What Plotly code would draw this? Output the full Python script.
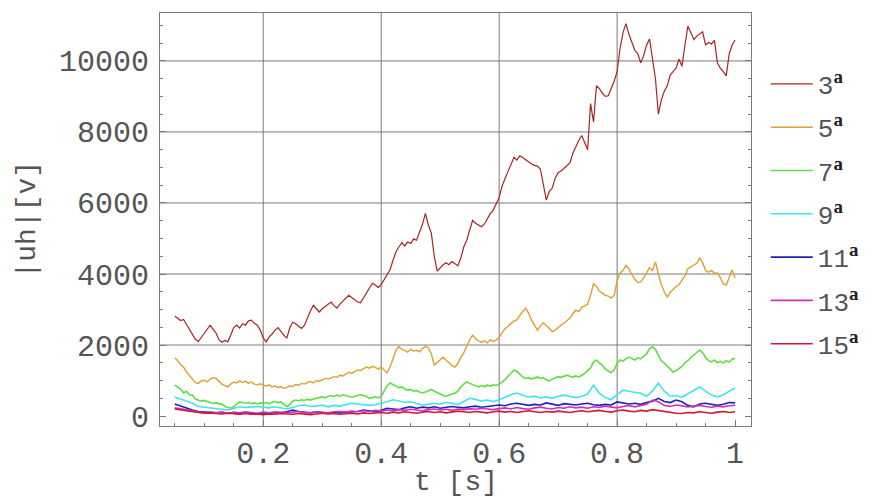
import numpy as np
import plotly.graph_objects as go

# harmonic amplitudes |uh| [V], fine sampling (dt = 0.005 s) from t = 0.05 to 1.0
h3 = [2820, 2760, 2690, 2720, 2580, 2470, 2330, 2160, 2100, 2220,
      2310, 2430, 2560, 2450, 2340, 2150, 2080, 2130, 2090, 2280,
      2490, 2560, 2480, 2600, 2560, 2680, 2700, 2610, 2560, 2420,
      2200, 2090, 2230, 2310, 2420, 2490, 2380, 2270, 2200, 2480,
      2640, 2600, 2530, 2470, 2560, 2780, 2960, 3120, 3010, 2930,
      3020, 3080, 3150, 3210, 3110, 3040, 3150, 3230, 3310, 3400,
      3340, 3270, 3210, 3190, 3330, 3460, 3610, 3740, 3690, 3620,
      3700, 3850, 3960, 4120, 4380, 4620, 4760, 4880, 4790, 4900,
      4860, 4990, 4950, 5150, 5400, 5710, 5380, 5150, 4500, 4080,
      4180, 4260, 4320, 4260, 4350, 4290, 4230, 4450, 4760, 4950,
      5230, 5510, 5430, 5390, 5330, 5410, 5560, 5700, 5800, 5960,
      6150, 6480, 6700, 6890, 7080, 7290, 7210, 7330, 7280, 7220,
      7150, 7100, 7060, 7040, 6950, 6500, 6080, 6330, 6420, 6700,
      6850, 6900, 6980, 7050, 7130, 7400, 7590, 7760, 7900, 7720,
      7500, 8800, 8280, 9300, 9220, 9090, 9000, 9020, 9200, 9430,
      9700, 10350, 10800, 11050, 10750, 10500, 10300, 10210, 9950, 10150,
      10450, 10620, 10100, 9500, 8500, 8900, 9150, 9300, 9600, 9700,
      9800, 10050, 9850, 10450, 10980, 10800, 10600, 10700, 10750, 10820,
      10450, 10520, 10480, 10580, 9950, 9800, 9700, 9580, 10200, 10450,
      10590]

h5 = [1640, 1560, 1450, 1380, 1240, 1150, 1060, 940, 920, 990,
      1010, 960, 1040, 1080, 1060, 980, 900, 860, 820, 900,
      960, 930, 990, 950, 980, 920, 960, 900, 880, 910,
      870, 840, 880, 820, 850, 800, 830, 780, 800, 850,
      830, 890, 870, 920, 900, 950, 970, 930, 1000, 980,
      1010, 1060, 1040, 1080, 1110, 1090, 1150, 1130, 1190, 1230,
      1200, 1260, 1300, 1280, 1340, 1380, 1350, 1400, 1370, 1320,
      1380, 1290, 1210, 1380, 1620, 1850, 1950, 1880, 1850, 1800,
      1880, 1830, 1850, 1810, 1900, 1960, 1920, 1750, 1440, 1520,
      1600, 1660, 1580, 1500, 1420, 1380, 1480, 1650, 1780, 1960,
      2150, 2280, 2180, 2120, 2080, 2120, 2060, 2150, 2100, 2140,
      2220, 2350, 2460, 2520, 2600, 2680, 2710, 2850, 2950, 3040,
      2900, 2700, 2550, 2420, 2540, 2620, 2550, 2450, 2380, 2420,
      2500, 2560, 2620, 2700, 2760, 2880, 2980, 2940, 3060, 3100,
      3150, 3400, 3730, 3650, 3520, 3460, 3400, 3380, 3320, 3400,
      3800, 4030, 4100, 4240, 4150, 3980, 3850, 3760, 3780, 3900,
      4030, 4180, 4100, 4340, 4000, 3700, 3500, 3350, 3480, 3560,
      3650, 3700, 3830, 3950, 4150, 4200, 4250, 4300, 4450, 4320,
      4100, 4050, 4100, 4020, 4030, 3900, 3720, 3690, 3900, 4110,
      3890]

h7 = [870, 820, 760, 650, 700, 600, 590, 480, 450, 420,
      440, 400, 380, 360, 370, 350, 330, 270, 240, 220,
      260, 330, 400, 380, 360, 380, 350, 370, 340, 370,
      360, 380, 350, 390, 410, 380, 400, 330, 260, 330,
      420, 450, 430, 460, 440, 470, 450, 480, 500, 520,
      540, 510, 560, 580, 550, 590, 560, 600, 570, 550,
      530, 560, 590, 600, 580, 560, 500, 520, 540, 510,
      560, 700, 850, 930, 880, 840, 800, 820, 760, 730,
      750, 700, 720, 680, 650, 680, 710, 750, 700, 650,
      620, 580, 560, 590, 620, 640, 700, 820, 900, 960,
      920, 880, 850, 820, 860, 830, 870, 840, 880, 860,
      900, 950, 1020, 1120, 1200, 1290, 1260, 1180, 1100, 1060,
      1080, 1040, 1070, 1100, 1060, 1080, 1020, 990, 1040, 1080,
      1110, 1090, 1130, 1150, 1120, 1090, 1130, 1100, 1150, 1200,
      1280, 1350, 1520, 1580, 1490, 1430, 1320, 1260, 1220, 1300,
      1480, 1580, 1550, 1610, 1660, 1620, 1580, 1640, 1610, 1680,
      1750, 1900, 1950, 1880, 1720, 1550, 1490, 1400, 1300, 1240,
      1280, 1350, 1400, 1500, 1560, 1650, 1720, 1770, 1860, 1780,
      1650, 1560, 1520, 1580, 1500, 1540, 1490, 1560, 1520, 1600,
      1630]

# coarse sampling (dt = 0.01 s) from t = 0.05 to 1.0
h9 = [540, 480, 410, 360, 270, 250, 230, 210, 190, 170,
      210, 260, 240, 250, 270, 250, 230, 260, 220, 200,
      240, 290, 310, 270, 280, 310, 260, 300, 280, 320,
      360, 340, 330, 300, 320, 350, 400, 460, 430, 390,
      400, 350, 310, 330, 360, 340, 380, 360, 320, 410,
      500, 470, 420, 450, 410, 460, 540, 600, 650, 580,
      530, 560, 510, 540, 500, 560, 590, 550, 520, 560,
      620, 870, 640, 520, 460, 600, 730, 700, 680, 640,
      560, 700, 930, 700, 560, 580, 530, 620, 720, 820,
      700, 590, 540, 600, 700, 790]

h11 = [340, 280, 220, 170, 130, 110, 100, 90, 110, 80,
       90, 70, 90, 80, 60, 80, 70, 100, 90, 120,
       170, 130, 100, 90, 120, 100, 80, 100, 90, 110,
       110, 130, 170, 140, 120, 160, 220, 200, 180, 230,
       260, 220, 250, 230, 260, 220, 240, 270, 250, 230,
       260, 280, 250, 270, 300, 310, 290, 340, 360, 320,
       300, 330, 310, 370, 340, 300, 350, 330, 310, 340,
       360, 320, 300, 330, 310, 400, 370, 340, 360, 330,
       380, 420, 500, 410, 380, 450, 400, 300, 260, 340,
       360, 320, 300, 330, 380, 370]

h13 = [230, 200, 160, 140, 120, 100, 110, 90, 100, 80,
       110, 90, 120, 100, 80, 110, 90, 120, 100, 90,
       110, 130, 100, 90, 120, 110, 90, 120, 130, 110,
       140, 120, 150, 130, 160, 140, 170, 150, 180, 160,
       190, 170, 150, 180, 200, 170, 190, 160, 200, 180,
       210, 190, 220, 200, 180, 210, 230, 200, 240, 210,
       190, 230, 250, 220, 200, 240, 220, 260, 230, 250,
       220, 260, 240, 280, 250, 230, 270, 300, 260, 290,
       330, 450, 400, 300, 270, 310, 290, 260, 280, 300,
       270, 250, 280, 260, 290, 300]

h15 = [200, 170, 140, 110, 100, 80, 90, 70, 60, 80,
       60, 50, 70, 50, 60, 40, 60, 50, 70, 60,
       50, 70, 60, 40, 60, 80, 60, 70, 50, 70,
       80, 60, 90, 70, 80, 100, 80, 110, 90, 120,
       100, 80, 110, 130, 100, 120, 90, 110, 140, 120,
       100, 130, 110, 90, 120, 140, 110, 130, 100, 120,
       150, 120, 100, 130, 110, 140, 120, 100, 130, 150,
       120, 140, 160, 130, 110, 150, 170, 140, 120, 160,
       140, 180, 150, 130, 110, 80, 70, 100, 90, 120,
       100, 80, 110, 130, 100, 120]

names = ["3", "5", "7", "9", "11", "13", "15"]
series = [h3, h5, h7, h9, h11, h13, h15]
colors = ["#a82424", "#e0a030", "#5ce040", "#40e4ec", "#2020b8", "#d030c0", "#d01838"]
widths = [1.2, 1.4, 1.6, 1.6, 1.6, 1.6, 1.6]

x_ticks = [0.2, 0.4, 0.6, 0.8, 1.0]
x_labels = ["0.2", "0.4", "0.6", "0.8", "1"]
y_ticks = [0, 2000, 4000, 6000, 8000, 10000]
y_labels = ["0", "2000", "4000", "6000", "8000", "10000"]
x_grid = [0.2, 0.4, 0.6, 0.8]
y_grid = [2000, 4000, 6000, 8000, 10000]

MONO = "Liberation Mono"
GRAY = "#7a7a7a"
TXT = "#555555"

fig = go.Figure()
for i, (n, v) in enumerate(zip(names, series)):
    t = np.linspace(0.05, 1.0, len(v))
    label = (n + "<sup><span style='font-family:Liberation Serif;font-size:19px;"
             "font-weight:bold;fill:#222'>a</span></sup>")
    fig.add_trace(go.Scatter(x=t, y=v, mode="lines", name=label,
                             legendgroup=n,
                             line=dict(color=colors[i], width=widths[i])))

for gx in x_grid:
    fig.add_shape(type="line", xref="x", yref="paper", x0=gx, x1=gx, y0=0, y1=1,
                  line=dict(color=GRAY, width=1), layer="below")
for gy in y_grid:
    fig.add_shape(type="line", xref="paper", yref="y", x0=0, x1=1, y0=gy, y1=gy,
                  line=dict(color=GRAY, width=1), layer="below")

# axis titles
fig.add_annotation(text="t [s]", xref="paper", yref="paper", x=0.5, y=-0.137,
                   xanchor="center", yanchor="middle", showarrow=False,
                   font=dict(family=MONO, size=28, color=TXT))
fig.add_annotation(text="|uh|[v]", xref="paper", yref="paper", x=-0.225, y=0.5,
                   xanchor="center", yanchor="middle", showarrow=False, textangle=-90,
                   font=dict(family=MONO, size=28, color=TXT))

# the page body adds an 8px margin, so the figure is sized to fit inside it
fig.update_layout(
    width=865, height=489,
    margin=dict(l=152, r=122, t=5, b=71),
    paper_bgcolor="white", plot_bgcolor="white",
    font=dict(family=MONO, size=30, color=TXT),
    showlegend=True,
    legend=dict(x=1.025, y=0.885, xanchor="left", yanchor="top",
                font=dict(family=MONO, size=26, color=TXT),
                tracegroupgap=6.5, itemwidth=42, bgcolor="rgba(0,0,0,0)"),
)
fig.update_xaxes(
    range=[0.025, 1.027], tickvals=x_ticks, ticktext=x_labels, automargin=False,
    ticks="inside", ticklen=6, tickcolor=GRAY, showgrid=False, zeroline=False,
    showline=True, linecolor=GRAY, linewidth=1, mirror=True,
    minor=dict(ticks="inside", ticklen=3, dtick=0.05, tick0=0, tickcolor=GRAY, showgrid=False),
    tickfont=dict(size=30, color=TXT),
)
fig.update_yaxes(
    range=[-280, 11350], tickvals=y_ticks, ticktext=y_labels, automargin=False,
    ticks="inside", ticklen=6, tickcolor=GRAY, showgrid=False, zeroline=False,
    showline=True, linecolor=GRAY, linewidth=1, mirror="allticks",
    minor=dict(ticks="inside", ticklen=3, dtick=500, tick0=0, tickcolor=GRAY, showgrid=False),
    tickfont=dict(size=30, color=TXT), ticklabelstandoff=4,
)

fig.write_html("out.html")
